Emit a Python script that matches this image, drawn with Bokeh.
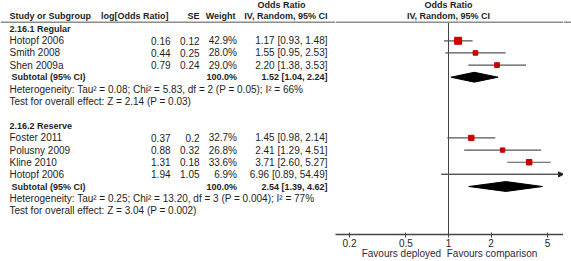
from bokeh.plotting import figure
from bokeh.models import Range1d, ColumnDataSource, FixedTicker, CustomJSTickFormatter, Arrow, NormalHead, Span
from bokeh.layouts import row
from bokeh.core.properties import value
from bokeh.embed import file_html
from bokeh.resources import INLINE

# ---------------- data ----------------
header_cols = ["Study or Subgroup", "log[Odds Ratio]", "SE", "Weight", "IV, Random, 95% CI"]
effect_title = "Odds Ratio"

reg_title = "2.16.1 Regular"
reg_study = ["Hotopf 2006", "Smith 2008", "Shen 2009a"]
reg_logor = [0.16, 0.44, 0.79]
reg_se = [0.12, 0.25, 0.24]
reg_weight = [42.9, 28.0, 29.0]
reg_or = [1.17, 1.55, 2.20]
reg_lo = [0.93, 0.95, 1.38]
reg_hi = [1.48, 2.53, 3.53]
reg_sub = [1.52, 1.04, 2.24]
reg_het = "Heterogeneity: Tau\u00b2 = 0.08; Chi\u00b2 = 5.83, df = 2 (P = 0.05); I\u00b2 = 66%"
reg_test = "Test for overall effect: Z = 2.14 (P = 0.03)"

res_title = "2.16.2 Reserve"
res_study = ["Foster 2011", "Polusny 2009", "Kline 2010", "Hotopf 2006"]
res_logor = [0.37, 0.88, 1.31, 1.94]
res_se = [0.2, 0.32, 0.18, 1.05]
res_weight = [32.7, 26.8, 33.6, 6.9]
res_or = [1.45, 2.41, 3.71, 6.96]
res_lo = [0.98, 1.29, 2.60, 0.89]
res_hi = [2.14, 4.51, 5.27, 54.49]
res_sub = [2.54, 1.39, 4.62]
res_het = "Heterogeneity: Tau\u00b2 = 0.25; Chi\u00b2 = 13.20, df = 3 (P = 0.004); I\u00b2 = 77%"
res_test = "Test for overall effect: Z = 3.04 (P = 0.002)"

axis_ticks = [0.2, 0.5, 1, 2, 5]
favours_label = "Favours deployed\u00a0 Favours comparison"

# ---------------- layout constants ----------------
FONT = value("Liberation Sans")
FS = value("10px")
FSB = value("9px")
TXT = "#1e1e1e"
H = 261
BOT = 24
ROW0, ROWH = 28.5, 12.3
X1, PPD = 448.0, 141.6
XLO = 10 ** ((335 - X1) / PPD)
XHI = 10 ** ((563 - X1) / PPD)
HDR_LINE = dict(line_color="#8c8c8c", line_width=1.5)

yr = Range1d(237, 0)


def ry(i):
    return ROW0 + ROWH * i


reg_y = [ry(i + 1) for i in range(len(reg_study))]
res_y = [ry(i + 9) for i in range(len(res_study))]
reg_sub_y, res_sub_y = ry(4), ry(13)


def fmt_ci(o, l, h):
    return "%.2f [%.2f, %.2f]" % (o, l, h)


def base_fig(width, **kw):
    p = figure(width=width, height=H, y_range=yr, y_axis_location=None,
               toolbar_location=None, output_backend="svg", min_border=0,
               min_border_bottom=BOT, outline_line_color=None, **kw)
    p.grid.grid_line_color = None
    p.add_layout(Span(location=22, dimension="width", **HDR_LINE))
    return p


def txt(p, xs, ys, texts, align, bold=False, color=TXT):
    src = ColumnDataSource(dict(x=xs, y=ys, t=texts))
    p.text(x="x", y="y", text="t", source=src, text_font=FONT,
           text_font_size=FSB if bold else FS,
           text_align=align, text_baseline="middle", text_color=color,
           text_font_style="bold" if bold else "normal")


# ---------------- left (table) ----------------
pl = base_fig(335, x_range=Range1d(0, 335), x_axis_location=None)

txt(pl, [9], [16], [header_cols[0]], "left", True)
txt(pl, [168], [16], [header_cols[1]], "right", True)
txt(pl, [199], [16], [header_cols[2]], "right", True)
txt(pl, [235], [16], [header_cols[3]], "right", True)
txt(pl, [327], [16], [header_cols[4]], "right", True)
txt(pl, [281], [5], [effect_title], "center", True)

txt(pl, [9, 9], [ry(0), ry(8)], [reg_title, res_title], "left", True)

studies = reg_study + res_study
ys = reg_y + res_y
txt(pl, [9] * len(studies), ys, studies, "left")
txt(pl, [170] * len(ys), ys, [str(v) for v in reg_logor + res_logor], "right")
txt(pl, [199] * len(ys), ys, [str(v) for v in reg_se + res_se], "right")
txt(pl, [236.5] * len(ys), ys, ["%.1f%%" % w for w in reg_weight + res_weight], "right")
txt(pl, [327] * len(ys), ys,
    [fmt_ci(o, l, h) for o, l, h in zip(reg_or + res_or, reg_lo + res_lo, reg_hi + res_hi)], "right")

txt(pl, [11, 11], [reg_sub_y, res_sub_y], ["Subtotal (95% CI)"] * 2, "left", True)
txt(pl, [236.5, 236.5], [reg_sub_y, res_sub_y], ["100.0%"] * 2, "right", True)
txt(pl, [327, 327], [reg_sub_y, res_sub_y], [fmt_ci(*reg_sub), fmt_ci(*res_sub)], "right", True)

txt(pl, [9, 9, 9, 9], [ry(5), ry(6), ry(14), ry(15)], [reg_het, reg_test, res_het, res_test], "left")

# ---------------- right (forest) ----------------
pr = base_fig(228, x_axis_type="log", x_range=Range1d(XLO, XHI))

txt(pr, [1], [5], [effect_title], "center", True)
txt(pr, [1], [16], [header_cols[4]], "center", True)

pr.segment(x0=[1], y0=[22], x1=[1], y1=[237], line_color="#444444", line_width=1)

all_or = reg_or + res_or
all_lo = reg_lo + res_lo
all_hi = reg_hi + res_hi
all_w = reg_weight + res_weight

seg = dict(lo=[], hi=[], y=[])
arr = dict(lo=[], hi=[], y=[])
sq = dict(x=[], y=[], s=[])
for o, l, h, w, y in zip(all_or, all_lo, all_hi, all_w, ys):
    if h > XHI:
        arr["lo"].append(l); arr["hi"].append(XHI); arr["y"].append(y)
    else:
        seg["lo"].append(l); seg["hi"].append(h); seg["y"].append(y)
    if o < XHI:
        sq["x"].append(o); sq["y"].append(y); sq["s"].append(w / 6.1)

pr.segment(x0="lo", x1="hi", y0="y", y1="y", source=ColumnDataSource(seg),
           line_color="#555555", line_width=1.2)
asrc = ColumnDataSource(arr)
pr.segment(x0="lo", x1="hi", y0="y", y1="y", source=asrc, line_color="#555555", line_width=1.2)
pr.add_layout(Arrow(end=NormalHead(size=5, fill_color="#222222", line_color="#222222"),
                    x_start="lo", y_start="y", x_end="hi", y_end="y", source=asrc,
                    line_color="#555555", line_width=1.2))
pr.scatter(x="x", y="y", size="s", marker="square", source=ColumnDataSource(sq),
           fill_color="#c80000", line_color="#c80000")

DH = 5.0
dxs, dys = [], []
for (e, l, h), yy in ((reg_sub, reg_sub_y), (res_sub, res_sub_y)):
    dxs.append([l, e, h, e])
    dys.append([yy, yy - DH, yy, yy + DH])
pr.patches(xs=dxs, ys=dys, fill_color="black", line_color="black")

ax = pr.xaxis[0]
ax.ticker = FixedTicker(ticks=axis_ticks)
ax.formatter = CustomJSTickFormatter(code="return tick.toString();")
ax.minor_tick_line_color = None
ax.major_tick_in = 2
ax.major_tick_out = 3
ax.axis_line_width = 1.5
ax.axis_line_color = "#444444"
ax.major_tick_line_color = "#444444"
ax.major_label_text_font = "Liberation Sans"
ax.major_label_text_font_size = "10px"
ax.major_label_text_color = TXT
ax.major_label_standoff = 1
ax.axis_label = favours_label
ax.axis_label_text_font = "Liberation Sans"
ax.axis_label_text_font_size = "10px"
ax.axis_label_text_font_style = "normal"
ax.axis_label_text_color = "#2a2a3a"
ax.axis_label_standoff = -2

# ---------------- spacer on the right (header line runs to the edge) ----------------
ps = base_fig(8, x_range=Range1d(0, 1), x_axis_location=None)

layout = row(pl, pr, ps)
open("out.html", "w").write(file_html(layout, INLINE))
